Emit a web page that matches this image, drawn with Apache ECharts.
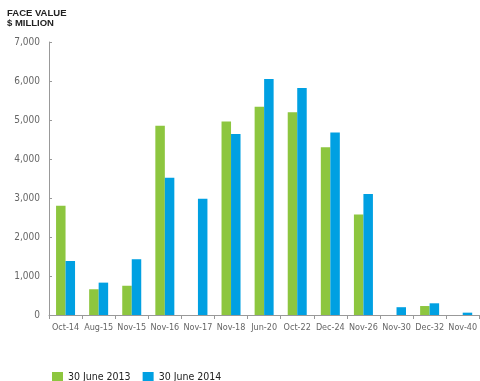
<!DOCTYPE html>
<html><head><meta charset="utf-8">
<script src="https://cdn.jsdelivr.net/npm/echarts@6/dist/echarts.min.js"></script>
<style>html,body{margin:0;padding:0;background:#fff}#c{width:480px;height:381px}</style>
</head><body><div id="c"></div>
<script>
var categories = ['Oct-14','Aug-15','Nov-15','Nov-16','Nov-17','Nov-18','Jun-20','Oct-22','Dec-24','Nov-26','Nov-30','Dec-32','Nov-40'];
var june2013 = [2800, 660, 750, 4850, null, 4960, 5340, 5200, 4300, 2580, null, 230, null];
var june2014 = [1385, 830, 1430, 3520, 2980, 4640, 6050, 5820, 4680, 3100, 200, 300, 60];
var seriesNames = ['30 June 2013', '30 June 2014'];
var yTicks = {min: 0, max: 7000, interval: 1000};
var font = '"Liberation Sans Narrow", "DejaVu Sans Condensed", "Liberation Sans", sans-serif';
var chart = echarts.init(document.getElementById('c'));
chart.setOption({
  animation: false,
  graphic: [{type:'text', left: 7, top: 8, style:{text:'FACE VALUE\n$ MILLION', font:'bold 9.5px "Liberation Sans", sans-serif', fill:'#222', lineHeight: 10}}],
  legend: {left: 47, top: 367, itemWidth: 11, itemHeight: 11, itemGap: 12, icon: 'rect',
    textStyle: {fontFamily: font, fontSize: 10.5, color: '#222'}, data: seriesNames},
  grid: {left: 49, top: 42, width: 433, height: 273, containLabel: false},
  xAxis: {type: 'category', data: categories,
    axisLine: {lineStyle: {color: '#999'}},
    axisTick: {show: true, length: 4, lineStyle: {color: '#999'}},
    axisLabel: {interval: 0, fontFamily: font, fontSize: 9, color: '#666', margin: 8}},
  yAxis: {type: 'value', min: yTicks.min, max: yTicks.max, interval: yTicks.interval,
    axisLine: {show: true, lineStyle: {color: '#999'}},
    axisTick: {show: true, inside: true, length: 3, lineStyle: {color: '#999'}},
    splitLine: {show: false},
    axisLabel: {fontFamily: font, fontSize: 10, color: '#666', margin: 9,
      formatter: function(v){ return v.toLocaleString('en-US'); }}},
  series: [
    {name: seriesNames[0], type: 'bar', data: june2013, barWidth: 9.5, barGap: '0%', itemStyle: {color: '#8dc63f'}},
    {name: seriesNames[1], type: 'bar', data: june2014, barWidth: 9.5, barGap: '0%', itemStyle: {color: '#00a0e2'}}
  ]
});
</script></body></html>
